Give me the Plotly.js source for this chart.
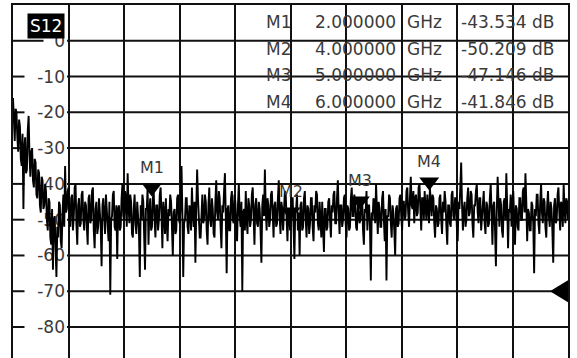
<!DOCTYPE html>
<html><head><meta charset="utf-8">
<script src="https://cdn.plot.ly/plotly-3.0.1.min.js"></script>
<style>html,body{margin:0;padding:0;background:#fff}#chart{width:577px;height:358px}</style>
</head><body><div id="chart"></div>
<script>
// ---- data ----
const traceName = 'S12';
const startGHz = 0;
const stopGHz = 8;
const s12Db = [
  -16,-24,-28,-19,-20,-27,-31,-22,-24,-33,-35,-26,-47,-30,-27,-37,-36,-25,-21,-32,
  -38,-31,-30,-39,-41,-33,-34,-43,-44,-36,-37,-46,-48,-38,-39,-47,-46,-40,-42,-50,
  -53,-44,-45,-55,-57,-47,-64,-50,-49,-58,-66,-52,-55,-45,-46,-56,-58,-48,-43,-52,
  -35,-48,-47,-42,-41,-50,-52,-44,-43,-53,-49,-41,-40,-51,-57,-46,-44,-52,-51,-43,
  -42,-50,-53,-45,-46,-52,-57,-44,-43,-51,-50,-42,-41,-53,-58,-47,-45,-54,-52,-44,
  -47,-52,-63,-46,-44,-51,-54,-43,-48,-55,-56,-45,-71,-50,-49,-43,-42,-52,-53,-46,
  -61,-47,-46,-53,-52,-44,-40,-49,-50,-42,-44,-52,-37,-46,-51,-43,-45,-54,-55,-47,
  -43,-51,-54,-45,-48,-53,-66,-46,-50,-43,-45,-52,-64,-47,-47,-41,-57,-48,-44,-53,
  -52,-44,-42,-50,-55,-46,-46,-53,-50,-43,-41,-49,-58,-45,-48,-54,-44,-51,-56,-47,
  -49,-43,-45,-52,-60,-48,-47,-54,-53,-44,-43,-50,-51,-46,-35,-48,-66,-51,-50,-44,
  -44,-52,-54,-46,-47,-53,-41,-48,-52,-45,-62,-47,-36,-44,-49,-55,-55,-45,-43,-51,
  -50,-43,-45,-53,-57,-46,-41,-50,-52,-44,-47,-54,-55,-45,-39,-48,-50,-42,-44,-52,
  -58,-46,-48,-42,-37,-49,-65,-47,-46,-53,-53,-44,-42,-50,-51,-43,-45,-52,-56,-46,
  -40,-49,-52,-45,-70,-48,-47,-53,-42,-50,-54,-44,-46,-52,-50,-43,-41,-49,-57,-46,
  -44,-51,-52,-45,-47,-53,-62,-46,-43,-49,-36,-47,-53,-44,-46,-52,-50,-43,-42,-48,
  -55,-46,-45,-52,-51,-44,-39,-49,-54,-45,-47,-53,-49,-42,-43,-51,-56,-47,-48,-53,
  -50,-44,-44,-52,-61,-47,-47,-43,-53,-48,-60,-46,-45,-53,-52,-44,-42,-50,-55,-46,
  -47,-54,-51,-44,-44,-52,-56,-46,-48,-42,-43,-51,-53,-45,-49,-55,-45,-50,-59,-47,
  -47,-53,-52,-45,-44,-50,-55,-46,-48,-43,-42,-51,-51,-44,-39,-48,-54,-46,-46,-52,
  -50,-44,-43,-51,-55,-46,-47,-53,-52,-44,-41,-49,-49,-43,-45,-52,-53,-46,-47,-51,
  -50,-45,-44,-53,-57,-47,-48,-42,-53,-46,-46,-52,-67,-48,-50,-44,-45,-51,-40,-47,
  -54,-45,-47,-52,-52,-44,-42,-50,-56,-47,-67,-49,-49,-43,-44,-51,-55,-46,-48,-53,
  -60,-47,-46,-52,-51,-44,-43,-49,-53,-45,-45,-50,-49,-42,-41,-48,-52,-44,-38,-46,
  -47,-42,-51,-44,-43,-49,-48,-41,-40,-47,-53,-44,-44,-50,-42,-47,-50,-43,-46,-51,
  -41,-48,-49,-43,-44,-51,-55,-46,-47,-52,-51,-44,-43,-50,-54,-45,-48,-42,-45,-52,
  -57,-46,-46,-51,-52,-43,-42,-49,-50,-44,-44,-52,-56,-45,-47,-41,-34,-46,-53,-47,
  -45,-52,-50,-44,-41,-49,-48,-42,-43,-51,-55,-46,-46,-42,-40,-48,-51,-44,-44,-53,
  -49,-43,-42,-51,-54,-45,-46,-52,-51,-44,-40,-48,-57,-46,-45,-53,-63,-47,-38,-45,
  -52,-44,-46,-53,-55,-45,-44,-50,-37,-46,-58,-47,-48,-43,-52,-45,-42,-50,-57,-46,
  -47,-52,-53,-44,-44,-50,-50,-42,-41,-48,-37,-45,-56,-47,-48,-53,-53,-45,-46,-51,
  -65,-47,-49,-43,-43,-51,-54,-45,-40,-48,-51,-44,-45,-52,-55,-46,-42,-49,-52,-45,
  -47,-53,-62,-46,-44,-51,-50,-43,-41,-48,-53,-45,-46,-52,-40,-47,-51,-44,-45,-50
];
const markerNames = ['M1', 'M2', 'M3', 'M4'];
const markerFreqGHz = [2, 4, 5, 6];
const markerDb = [-43.534, -50.209, -47.146, -41.846];
const yTickVals = [0, -10, -20, -30, -40, -50, -60, -70, -80];
const yTickLabels = ['0', '-10', '-20', '-30', '-40', '-50', '-60', '-70', '-80'];
const refLevelDb = -70;
const yTopDb = 10;
const dbPerDiv = 10;

// ---- layout geometry ----
const W = 577, H = 358, ML = 13, MR = 9, MT = 5, MB = 0;
const plotW = W - ML - MR, plotH = H - MT - MB;
const pxPerDb = 3.578;
const yBottomDb = yTopDb - plotH / pxPerDb;
const px2paperX = px => (px - ML) / plotW;
const px2paperY = py => 1 - (py - MT) / plotH;
const labelEndPx = 67;

const ink = '#111';
const textCol = '#3a3a3a';
const fontFam = '"DejaVu Sans", sans-serif';

const freq = s12Db.map((_, i) => startGHz + i * (stopGHz - startGHz) / (s12Db.length - 1));

const traces = [
  { x: freq, y: s12Db, type: 'scatter', mode: 'lines',
    line: { color: '#000', width: 1.9 }, hoverinfo: 'skip', showlegend: false },
  { x: [], y: [], yaxis: 'y2', type: 'scatter', mode: 'lines', showlegend: false, hoverinfo: 'skip' }
];

const annotations = [];
const shapes = [];

// S12 badge
annotations.push({ xref: 'paper', yref: 'paper', x: px2paperX(27), y: px2paperY(13),
  xanchor: 'left', yanchor: 'top', text: traceName, showarrow: false,
  bgcolor: '#000', borderpad: 2, font: { family: fontFam, size: 17, color: '#fff' } });

// marker table + markers on trace
markerNames.forEach((name, k) => {
  const yy = px2paperY(22 + k * 26.5);
  const base = { xref: 'paper', yref: 'paper', y: yy, yanchor: 'middle', showarrow: false,
    font: { family: fontFam, size: 17, color: textCol } };
  annotations.push(Object.assign({}, base, { x: px2paperX(293), xanchor: 'right', text: name }));
  annotations.push(Object.assign({}, base, { x: px2paperX(313), xanchor: 'left', text: markerFreqGHz[k].toFixed(6) }));
  annotations.push(Object.assign({}, base, { x: px2paperX(405), xanchor: 'left', text: 'GHz' }));
  annotations.push(Object.assign({}, base, { x: px2paperX(459), xanchor: 'left', text: markerDb[k].toFixed(3) + ' dB' }));
  shapes.push({ type: 'path', xref: 'x', yref: 'y', xsizemode: 'pixel', ysizemode: 'pixel',
    xanchor: markerFreqGHz[k], yanchor: markerDb[k], path: 'M-10,13 L10,13 L0,0 Z',
    fillcolor: '#000', line: { width: 0 }, layer: 'above' });
  annotations.push({ xref: 'x', yref: 'y', x: markerFreqGHz[k], y: markerDb[k], yshift: 29,
    xanchor: 'center', yanchor: 'middle', text: name, showarrow: false,
    font: { family: fontFam, size: 16, color: textCol } });
});

// reference level marker
shapes.push({ type: 'path', xref: 'x', yref: 'y', xsizemode: 'pixel', ysizemode: 'pixel',
  xanchor: stopGHz, yanchor: refLevelDb, path: 'M0,-11 L-18,0 L0,11 Z',
  fillcolor: '#000', line: { width: 0 }, layer: 'above' });

// horizontal graticule lines, broken where the level labels sit
yTickLabels.forEach((lab, k) => {
  const gapLeftPx = labelEndPx - (14 + 9.5 * lab.length);
  const common = { type: 'line', xref: 'paper', yref: 'y', y0: yTickVals[k], y1: yTickVals[k],
    line: { color: ink, width: 2 }, layer: 'below' };
  shapes.push(Object.assign({}, common, { x0: 0, x1: px2paperX(gapLeftPx) }));
  shapes.push(Object.assign({}, common, { x0: px2paperX(labelEndPx), x1: 1 }));
});

const layout = {
  width: W, height: H,
  margin: { l: ML, r: MR, t: MT, b: MB, pad: 0 },
  paper_bgcolor: '#fff', plot_bgcolor: '#fff',
  showlegend: false,
  xaxis: { range: [startGHz, stopGHz], side: 'top', showline: true, linecolor: ink, linewidth: 2,
    showgrid: true, gridcolor: ink, gridwidth: 2, tick0: startGHz, dtick: (stopGHz - startGHz) / 10,
    showticklabels: false, ticks: '', zeroline: false, fixedrange: true },
  yaxis: { range: [yBottomDb, yTopDb], showline: true, mirror: true, linecolor: ink, linewidth: 2,
    showgrid: false, showticklabels: false, ticks: '', zeroline: false, fixedrange: true },
  yaxis2: { overlaying: 'y', anchor: 'free', position: px2paperX(labelEndPx - 2), side: 'left',
    range: [yBottomDb, yTopDb], tickmode: 'array', tickvals: yTickVals, ticktext: yTickLabels,
    showgrid: false, showline: false, zeroline: false, ticks: '', layer: 'below traces',
    tickfont: { family: fontFam, size: 17, color: textCol }, fixedrange: true },
  annotations: annotations,
  shapes: shapes
};

Plotly.newPlot('chart', traces, layout, { staticPlot: true, displayModeBar: false });
</script>
</body></html>
